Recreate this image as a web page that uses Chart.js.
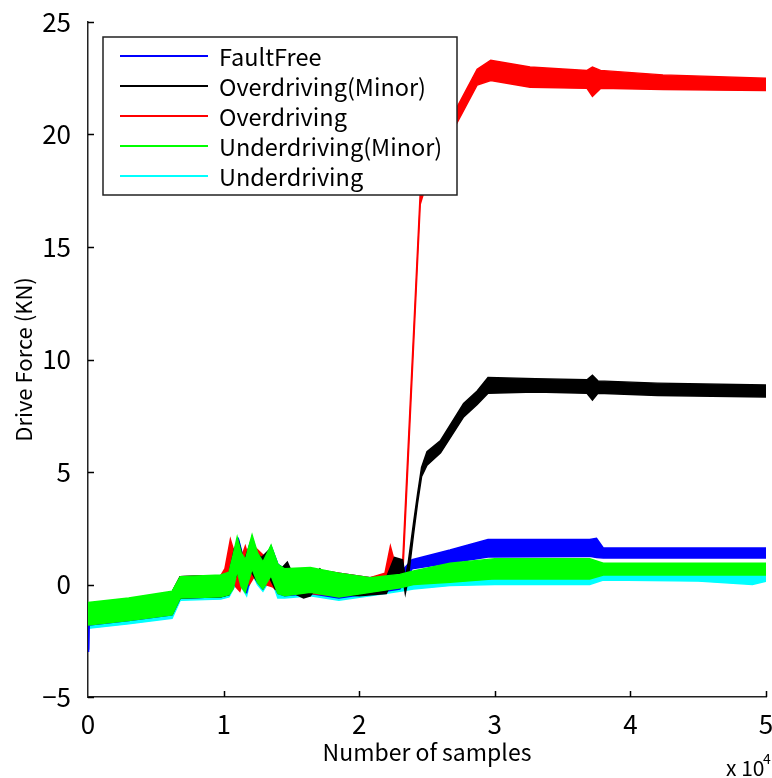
<!DOCTYPE html>
<html>
<head>
<meta charset="utf-8">
<script src="https://cdn.jsdelivr.net/npm/chart.js@4.4.1/dist/chart.umd.min.js"></script>
<style>
  html, body { margin: 0; padding: 0; background: #fff; }
  #wrap { width: 772px; height: 778px; }
</style>
</head>
<body>
<div id="wrap"><canvas id="forceChart" width="772" height="778"></canvas></div>
<script>
// Drive force traces, x in units of 1e4 samples, each trace as upper/lower edge of its band
const seriesLabels = ['FaultFree', 'Overdriving(Minor)', 'Overdriving', 'Underdriving(Minor)', 'Underdriving'];
const xTicks = [0, 1, 2, 3, 4, 5];
const yTicks = [-5, 0, 5, 10, 15, 20, 25];

// FaultFree
const faultFreeX  = [0, 0.004, 0.008, 0.3, 0.62, 0.68, 0.98, 1.04, 1.08, 1.11, 1.14, 1.17, 1.21, 1.25, 1.29, 1.35, 1.40, 1.45, 1.64, 1.85, 2.08, 2.3, 2.39, 2.67, 2.95, 3.7, 3.75, 3.8, 4.4, 5.0];
const faultFreeHi = [-0.85, -2.9, -0.85, -0.65, -0.35, 0.35, 0.4, 0.55, 1.5, 2.0, 1.3, 1.1, 2.1, 1.3, 1.0, 1.7, 0.9, 0.7, 0.7, 0.5, 0.3, 0.5, 1.1, 1.53, 2.0, 2.0, 2.05, 1.62, 1.62, 1.62];
const faultFreeLo = [-1.8, -3.0, -1.8, -1.6, -1.35, -0.6, -0.55, -0.45, 0.0, 0.6, -0.1, -0.35, 0.6, 0.1, -0.2, 0.4, -0.4, -0.5, -0.4, -0.6, -0.4, -0.2, 0.7, 0.96, 1.22, 1.25, 1.2, 1.18, 1.18, 1.18];

// Overdriving(Minor)
const overMinorX  = [0, 0.3, 0.62, 0.68, 0.98, 1.04, 1.08, 1.11, 1.15, 1.20, 1.24, 1.28, 1.33, 1.38, 1.41, 1.47, 1.52, 1.59, 1.64, 1.71, 1.78, 2.0, 2.2, 2.26, 2.32, 2.34, 2.36, 2.40, 2.43, 2.46, 2.5, 2.6, 2.77, 2.87, 2.95, 3.3, 3.68, 3.72, 3.76, 4.2, 5.0];
const overMinorHi = [-0.85, -0.65, -0.35, 0.35, 0.4, 0.5, 1.6, 1.9, 1.0, 1.9, 1.4, 1.2, 1.5, 1.0, 0.6, 1.0, 0.3, 0.0, 0.2, 0.7, 0.3, 0.2, 0.3, 1.2, 1.1, 0.3, 0.9, 2.7, 4.0, 5.2, 5.9, 6.4, 8.05, 8.6, 9.2, 9.15, 9.1, 9.3, 9.05, 8.95, 8.87];
const overMinorLo = [-1.75, -1.55, -1.3, -0.6, -0.55, -0.45, 0.2, 0.6, 0.0, 0.6, 0.2, 0.0, 0.4, -0.2, -0.3, 0.3, -0.4, -0.6, -0.5, 0.1, -0.4, -0.5, -0.4, 0.4, 0.4, -0.4, 0.2, 2.2, 3.6, 4.8, 5.3, 5.85, 7.45, 8.0, 8.5, 8.55, 8.5, 8.2, 8.5, 8.4, 8.33];

// Overdriving
const overX  = [0, 0.3, 0.62, 0.68, 0.98, 1.01, 1.05, 1.09, 1.12, 1.16, 1.19, 1.24, 1.31, 1.36, 1.42, 1.64, 1.85, 2.08, 2.19, 2.23, 2.27, 2.32, 2.45, 2.48, 2.72, 2.87, 2.97, 3.26, 3.68, 3.72, 3.78, 4.24, 5.0];
const overHi = [-0.85, -0.65, -0.35, 0.35, 0.4, 0.7, 2.0, 1.2, 1.0, 1.7, 1.1, 1.6, 1.2, 1.2, 0.6, 0.7, 0.5, 0.3, 0.5, 1.7, 0.8, 0.9, 17.4, 18.1, 21.2, 22.9, 23.3, 23.0, 22.85, 23.0, 22.85, 22.65, 22.5];
const overLo = [-1.75, -1.55, -1.3, -0.55, -0.5, -0.4, 0.6, -0.1, -0.3, 0.5, 0.0, 0.5, 0.0, -0.1, -0.4, -0.4, -0.5, -0.3, -0.2, 0.6, 0.1, 0.3, 16.9, 17.5, 20.5, 22.2, 22.4, 22.1, 22.05, 21.7, 22.05, 22.0, 21.95];

// Underdriving(Minor)
const underMinorX  = [0, 0.3, 0.62, 0.68, 0.98, 1.04, 1.07, 1.10, 1.13, 1.16, 1.21, 1.25, 1.29, 1.35, 1.40, 1.45, 1.64, 1.85, 2.08, 2.3, 2.4, 2.67, 3.0, 3.7, 3.8, 4.5, 5.0];
const underMinorHi = [-0.8, -0.6, -0.3, 0.35, 0.42, 0.55, 1.3, 2.1, 1.4, 1.1, 2.2, 1.4, 1.0, 1.75, 0.9, 0.7, 0.75, 0.5, 0.3, 0.45, 0.6, 0.95, 1.15, 1.15, 0.95, 0.95, 0.95];
const underMinorLo = [-1.8, -1.6, -1.35, -0.6, -0.55, -0.45, -0.2, 0.6, -0.1, -0.35, 0.7, 0.1, -0.2, 0.4, -0.4, -0.5, -0.35, -0.55, -0.35, -0.15, 0.0, 0.1, 0.25, 0.25, 0.42, 0.42, 0.42];

// Underdriving
const underX  = [0, 0.3, 0.62, 0.68, 0.98, 1.04, 1.08, 1.11, 1.14, 1.17, 1.21, 1.25, 1.29, 1.35, 1.40, 1.45, 1.64, 1.85, 2.08, 2.3, 2.4, 2.67, 3.0, 3.7, 3.8, 4.5, 4.9, 5.0];
const underHi = [-0.85, -0.65, -0.35, 0.3, 0.35, 0.5, 1.4, 2.0, 1.3, 1.1, 2.1, 1.3, 1.0, 1.7, 0.9, 0.7, 0.6, 0.4, 0.25, 0.4, 0.5, 0.75, 0.7, 0.7, 0.56, 0.56, 0.56, 0.56];
const underLo = [-1.95, -1.75, -1.5, -0.7, -0.65, -0.55, -0.1, 0.5, -0.2, -0.5, 0.5, 0.0, -0.3, 0.3, -0.6, -0.6, -0.5, -0.7, -0.5, -0.3, -0.2, -0.05, 0.0, 0.0, 0.2, 0.15, 0.0, 0.15];

const seriesColors = ['#0000ff', '#000000', '#ff0000', '#00ff00', '#00ffff'];
const FONT = "'Noto Sans CJK JP', 'Noto Sans', sans-serif";

const traces = [
  { x: faultFreeX, hi: faultFreeHi, lo: faultFreeLo },
  { x: overMinorX, hi: overMinorHi, lo: overMinorLo },
  { x: overX, hi: overHi, lo: overLo },
  { x: underMinorX, hi: underMinorHi, lo: underMinorLo },
  { x: underX, hi: underHi, lo: underLo }
];

// index 0 is drawn on top: green, black, red, blue, cyan
const drawOrder = [3, 1, 2, 0, 4];

function toPoints(xs, ys) {
  return xs.map((x, i) => ({ x: x, y: ys[i] }));
}

function buildDatasets() {
  const sets = [];
  drawOrder.forEach(k => {
    const t = traces[k];
    const c = seriesColors[k];
    sets.push({
      label: seriesLabels[k] + ' hi',
      data: toPoints(t.x, t.hi),
      borderColor: c,
      borderWidth: 1.5,
      pointRadius: 0,
      tension: 0,
      fill: false
    });
    sets.push({
      label: seriesLabels[k],
      data: toPoints(t.x, t.lo),
      borderColor: c,
      backgroundColor: c,
      borderWidth: 1.5,
      pointRadius: 0,
      tension: 0,
      fill: '-1'
    });
  });
  return sets;
}

// inward tick marks, legend box, exponent label
const decorPlugin = {
  id: 'decor',
  afterDraw(chart) {
    const ctx = chart.ctx;
    const area = chart.chartArea;
    const xs = chart.scales.x;
    const ys = chart.scales.y;
    ctx.save();
    ctx.strokeStyle = '#000';
    ctx.lineWidth = 1.5;
    ctx.beginPath();
    yTicks.forEach(v => {
      const py = Math.round(ys.getPixelForValue(v)) + 0.5;
      ctx.moveTo(area.left, py);
      ctx.lineTo(area.left + 6, py);
    });
    xTicks.forEach(v => {
      if (v === 0) return;
      const px = Math.round(xs.getPixelForValue(v)) + 0.5;
      ctx.moveTo(px, area.bottom);
      ctx.lineTo(px, area.bottom - 6);
    });
    ctx.stroke();

    // legend
    const bx = 103, by = 37, bw = 354, bh = 158;
    ctx.fillStyle = '#fff';
    ctx.fillRect(bx, by, bw, bh);
    ctx.lineWidth = 1.5;
    ctx.strokeStyle = '#222';
    ctx.strokeRect(bx, by, bw, bh);
    ctx.font = '23.5px ' + FONT;
    ctx.textBaseline = 'middle';
    ctx.textAlign = 'left';
    seriesLabels.forEach((lab, i) => {
      const ry = by + 19 + i * 30;
      ctx.strokeStyle = seriesColors[i];
      ctx.lineWidth = 2;
      ctx.beginPath();
      ctx.moveTo(120, ry);
      ctx.lineTo(208, ry);
      ctx.stroke();
      ctx.fillStyle = '#000';
      ctx.fillText(lab, 219, ry + 1);
    });

    // x 10^4
    ctx.fillStyle = '#000';
    ctx.font = '21px ' + FONT;
    ctx.textBaseline = 'alphabetic';
    ctx.fillText('x 10', 726, 776);
    ctx.font = '14px ' + FONT;
    ctx.fillText('4', 763, 764);
    ctx.restore();
  }
};

function initForceChart() {
  const canvas = document.getElementById('forceChart');
  if (!canvas || typeof Chart === 'undefined') return;

  new Chart(canvas.getContext('2d'), {
    type: 'line',
    data: { datasets: buildDatasets() },
    options: {
      responsive: false,
      animation: false,
      layout: { padding: { top: 22, right: 6, left: 0, bottom: 0 } },
      plugins: {
        legend: { display: false },
        tooltip: { enabled: false }
      },
      scales: {
        x: {
          type: 'linear',
          min: 0,
          max: 5,
          afterBuildTicks: scale => { scale.ticks = xTicks.map(v => ({ value: v })); },
          afterFit: scale => {
            scale.height = 81;
            scale.paddingRight = 0;
            scale.paddingLeft = 0;
          },
          grid: { display: false },
          border: { display: true, color: '#222', width: 1.5 },
          ticks: {
            color: '#000',
            padding: 4,
            font: { size: 26, family: FONT },
            maxRotation: 0
          },
          title: {
            display: true,
            text: 'Number of samples',
            color: '#000',
            padding: { top: 0, bottom: 12 },
            font: { size: 23, family: FONT }
          }
        },
        y: {
          type: 'linear',
          min: -5,
          max: 25,
          afterBuildTicks: scale => { scale.ticks = yTicks.map(v => ({ value: v })); },
          afterFit: scale => {
            scale.width = 88;
            scale.paddingTop = 0;
            scale.paddingBottom = 0;
          },
          grid: { display: false },
          border: { display: true, color: '#222', width: 1.5 },
          ticks: {
            color: '#000',
            padding: 9,
            font: { size: 26, family: FONT },
            callback: v => v < 0 ? '\u2212' + Math.abs(v) : String(v)
          },
          title: {
            display: true,
            text: 'Drive Force (KN)',
            color: '#000',
            padding: { top: 10, bottom: 0 },
            font: { size: 22, family: FONT }
          }
        }
      }
    },
    plugins: [decorPlugin]
  });
}

if (document.readyState === 'loading') {
  document.addEventListener('DOMContentLoaded', initForceChart);
} else {
  initForceChart();
}
</script>
</body>
</html>
